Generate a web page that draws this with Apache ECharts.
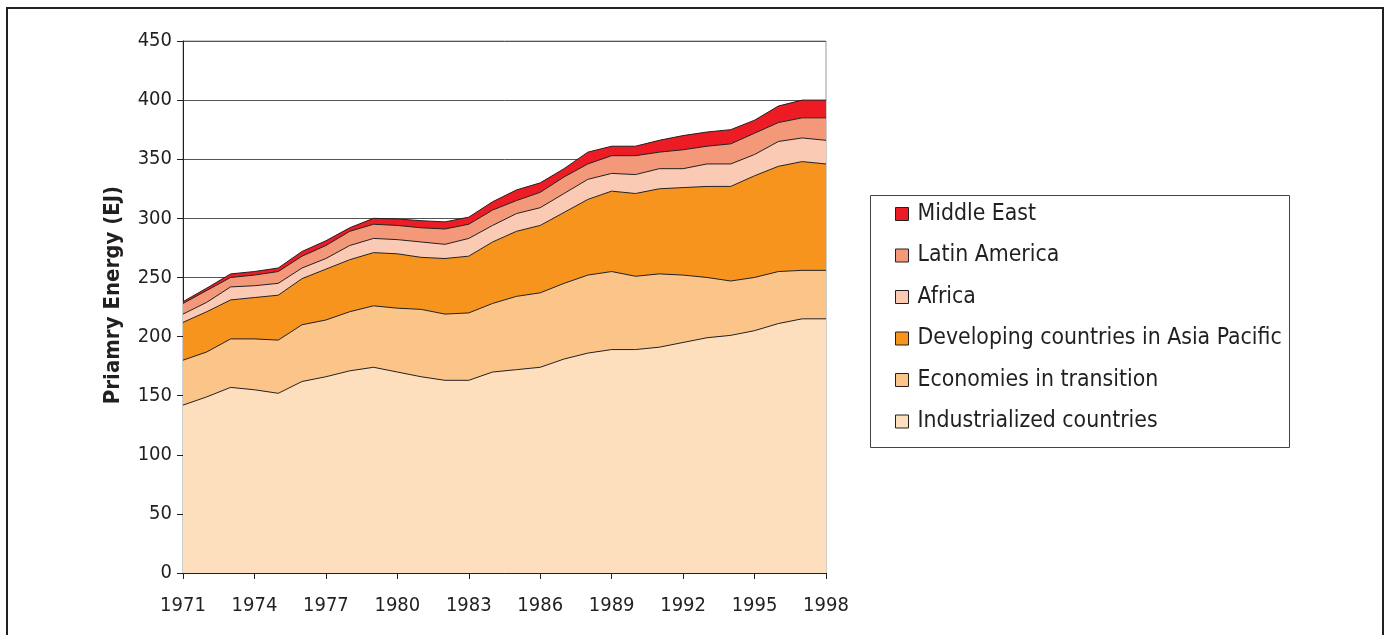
<!DOCTYPE html>
<html>
<head>
<meta charset="utf-8">
<script src="https://cdn.jsdelivr.net/npm/echarts@6/dist/echarts.min.js"></script>
<style>
html,body{margin:0;padding:0;background:#fff;}
#chart{width:1390px;height:635px;}
</style>
</head>
<body>
<div id="chart"></div>
<script>
const years = ['1971','1972','1973','1974','1975','1976','1977','1978','1979','1980','1981','1982','1983','1984','1985','1986','1987','1988','1989','1990','1991','1992','1993','1994','1995','1996','1997','1998'];
const industrialized = [142,149,157,155,152,162,166,171,174,170,166,163,163,170,172,174,181,186,189,189,191,195,199,201,205,211,215,215];
const transition = [38,38,41,43,45,48,48,50,52,54,57,56,57,58,62,63,64,66,66,62,62,57,51,46,45,44,41,41];
const asiaPacific = [32,34,33,35,38,39,43,44,45,46,44,47,48,52,55,57,60,64,68,70,72,74,77,80,86,89,92,90];
const africa = [7,8,11,10,10,9,9,12,12,12,13,12,15,14,15,15,16,17,15,16,17,16,19,19,18,21,20,20];
const latinAmerica = [9,10,8,9,10,10,11,12,12,12,12,13,12,13,11,13,14,13,15,16,14,16,15,17,18,16,17,19];
const middleEast = [1.5,2,3,3,3,4,4,3,5,5.5,6,6,6,7,9,8,7,10,8,8,10,12,12,12,11,14,15,15];
const yTitle = 'Priamry Energy (EJ)';

const FONT = "'Liberation Sans Narrow','Arial Narrow','DejaVu Sans Condensed','Roboto Condensed',sans-serif";
const LINE = '#231F20';

function mk(name, data, color) {
  return {
    name: name, type: 'line', stack: 'total', data: data,
    symbol: 'none', showSymbol: false,
    lineStyle: {color: LINE, width: 1},
    itemStyle: {color: color},
    areaStyle: {color: color, opacity: 1},
    emphasis: {disabled: true}
  };
}

const chart = echarts.init(document.getElementById('chart'), null, {renderer: 'canvas'});
chart.setOption({
  animation: false,
  backgroundColor: '#fff',
  grid: {left: 183, right: 564, top: 41, bottom: 62, show: true, borderColor: '#999', borderWidth: 1, backgroundColor: 'transparent'},
  xAxis: {
    type: 'category', data: years, boundaryGap: false,
    axisLine: {lineStyle: {color: LINE, width: 1}},
    axisTick: {interval: 2, length: 6, lineStyle: {color: LINE}},
    axisLabel: {interval: 2, color: '#231F20', fontFamily: FONT, fontSize: 20, margin: 23},
    splitLine: {show: false}
  },
  yAxis: {
    type: 'value', min: 0, max: 450, interval: 50,
    axisLine: {show: true, lineStyle: {color: LINE, width: 1}},
    axisTick: {show: true, length: 6, lineStyle: {color: LINE}},
    axisLabel: {color: '#231F20', fontFamily: FONT, fontSize: 20, margin: 11},
    splitLine: {show: true, lineStyle: {color: '#555', width: 1}}
  },
  legend: {
    orient: 'vertical', left: 895, top: 202, padding: 0,
    icon: 'rect', itemWidth: 13, itemHeight: 13, itemGap: 17.5,
    itemStyle: {borderColor: LINE, borderWidth: 1},
    textStyle: {color: '#231F20', fontFamily: FONT, fontSize: 22.8, lineHeight: 24, padding: [0,0,0,4]},
    data: ['Middle East','Latin America','Africa','Developing countries in Asia Pacific','Economies in transition','Industrialized countries'],
    selectedMode: false
  },
  graphic: [
    {type: 'rect', shape: {x: 870.5, y: 195.5, width: 419, height: 252}, style: {fill: 'none', stroke: '#444', lineWidth: 1}, silent: true},
    {type: 'rect', shape: {x: 7, y: 8, width: 1376, height: 660}, style: {fill: 'none', stroke: LINE, lineWidth: 2}, silent: true},
    {type: 'text', x: 113, y: 295, rotation: Math.PI / 2, silent: true,
     style: {text: yTitle, fill: '#231F20', font: "bold 22px " + FONT, textAlign: 'center', textVerticalAlign: 'middle'}}
  ],
  series: [
    mk('Industrialized countries', industrialized, '#FDDFBD'),
    mk('Economies in transition', transition, '#FBC589'),
    mk('Developing countries in Asia Pacific', asiaPacific, '#F7941D'),
    mk('Africa', africa, '#FBCAB5'),
    mk('Latin America', latinAmerica, '#F4987A'),
    mk('Middle East', middleEast, '#ED1C24')
  ]
});
</script>
</body>
</html>
